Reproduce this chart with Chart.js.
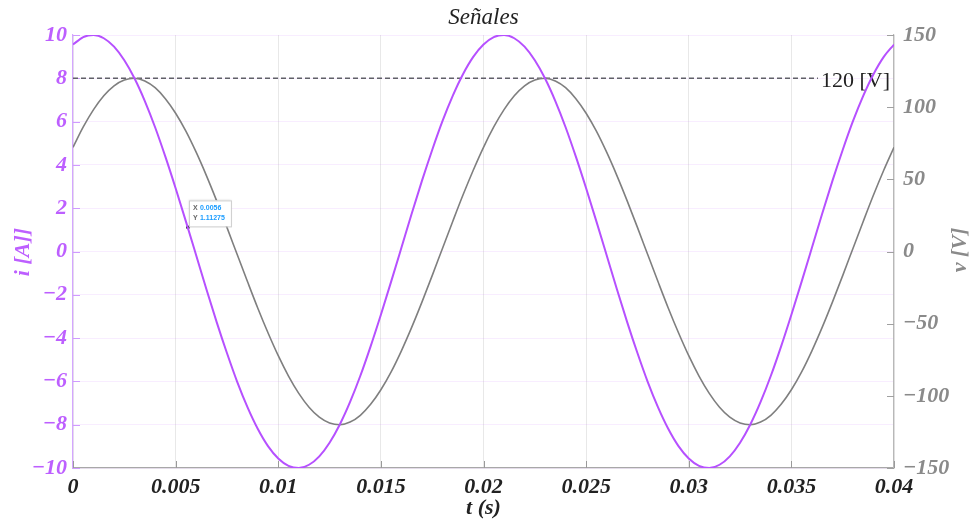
<!DOCTYPE html>
<html>
<head>
<meta charset="utf-8">
<script src="https://cdn.jsdelivr.net/npm/chart.js@4"></script>
<style>
  html,body{margin:0;padding:0;background:#fff;}
  canvas{display:block;}
</style>
</head>
<body>
<canvas id="c" width="974" height="521"></canvas>
<script>
// ---- data ----
const titleText = 'Señales';
const xTitle = 't (s)';
const leftTitle = 'i [A]]';
const rightTitle = 'v [V]';
const times = [0,0.0005,0.001,0.0015,0.002,0.0025,0.003,0.0035,0.004,0.0045,0.005,0.0055,0.006,0.0065,0.007,0.0075,0.008,0.0085,0.009,0.0095,
  0.01,0.0105,0.011,0.0115,0.012,0.0125,0.013,0.0135,0.014,0.0145,0.015,0.0155,0.016,0.0165,0.017,0.0175,0.018,0.0185,0.019,0.0195,
  0.02,0.0205,0.021,0.0215,0.022,0.0225,0.023,0.0235,0.024,0.0245,0.025,0.0255,0.026,0.0265,0.027,0.0275,0.028,0.0285,0.029,0.0295,
  0.03,0.0305,0.031,0.0315,0.032,0.0325,0.033,0.0335,0.034,0.0345,0.035,0.0355,0.036,0.0365,0.037,0.0375,0.038,0.0385,0.039,0.0395,0.04];
const current = [9.56,9.90,10.00,9.85,9.46,8.83,7.99,6.95,5.74,4.38,2.92,1.39,-0.17,-1.74,-3.26,-4.69,-6.02,-7.19,-8.19,-8.99,
  -9.56,-9.90,-10.00,-9.85,-9.46,-8.83,-7.99,-6.95,-5.74,-4.38,-2.92,-1.39,0.17,1.74,3.26,4.69,6.02,7.19,8.19,8.99,
  9.56,9.90,10.00,9.85,9.46,8.83,7.99,6.95,5.74,4.38,2.92,1.39,-0.17,-1.74,-3.26,-4.69,-6.02,-7.19,-8.19,-8.99,
  -9.56,-9.90,-10.00,-9.85,-9.46,-8.83,-7.99,-6.95,-5.74,-4.38,-2.92,-1.39,0.17,1.74,3.26,4.69,6.02,7.19,8.19,8.99,9.56];
const voltage = [72.2,86.3,98.3,107.9,114.8,118.8,120.0,118.2,113.5,105.9,95.8,83.4,68.8,52.6,35.1,16.7,-2.1,-20.8,-39.1,-56.3,
  -72.2,-86.3,-98.3,-107.9,-114.8,-118.8,-120.0,-118.2,-113.5,-105.9,-95.8,-83.4,-68.8,-52.6,-35.1,-16.7,2.1,20.8,39.1,56.3,
  72.2,86.3,98.3,107.9,114.8,118.8,120.0,118.2,113.5,105.9,95.8,83.4,68.8,52.6,35.1,16.7,-2.1,-20.8,-39.1,-56.3,
  -72.2,-86.3,-98.3,-107.9,-114.8,-118.8,-120.0,-118.2,-113.5,-105.9,-95.8,-83.4,-68.8,-52.6,-35.1,-16.7,2.1,20.8,39.1,56.3,72.2];
const refValue = 120;
const refLabel = '120 [V]';
const tipX = 0.0056;
const tipY = 1.11275;
const tipLabels = ['0.0056', '1.11275'];

// ---- styles ----
const PURPLE = '#b650ff';
const PURPLE_TXT = '#bd5fff';
const GRAY = '#7f7f7f';
const GRAY_TXT = '#8a8a8a';
const SERIF = "'Liberation Serif', 'Times New Roman', serif";
const minus = s => String(s).replace('-', '\u2212');

const pts = (xs, ys) => xs.map((x, i) => ({x, y: ys[i]}));

const decorPlugin = {
  id: 'decor',
  beforeDatasetsDraw(chart) {
    const {ctx, chartArea: a, scales} = chart;
    ctx.save();
    // inside tick marks
    ctx.lineWidth = 1;
    ctx.strokeStyle = '#9a9a9a';
    scales.x.ticks.forEach(t => {
      const px = Math.round(scales.x.getPixelForValue(t.value)) + 0.5;
      ctx.beginPath(); ctx.moveTo(px, a.bottom); ctx.lineTo(px, a.bottom - 7); ctx.stroke();
    });
    ctx.strokeStyle = '#cf9bff';
    scales.y.ticks.forEach(t => {
      const py = Math.round(scales.y.getPixelForValue(t.value)) + 0.5;
      ctx.beginPath(); ctx.moveTo(a.left, py); ctx.lineTo(a.left + 7, py); ctx.stroke();
    });
    ctx.strokeStyle = '#a0a0a0';
    scales.y1.ticks.forEach(t => {
      const py = Math.round(scales.y1.getPixelForValue(t.value)) + 0.5;
      ctx.beginPath(); ctx.moveTo(a.right, py); ctx.lineTo(a.right - 7, py); ctx.stroke();
    });
    // reference line with label
    ctx.font = "22px " + SERIF;
    const tw = ctx.measureText(refLabel).width;
    const ry = scales.y1.getPixelForValue(refValue);
    const tx = a.right - 4 - tw;
    ctx.strokeStyle = '#606068';
    ctx.lineWidth = 1.5;
    ctx.setLineDash([5, 3]);
    ctx.beginPath(); ctx.moveTo(a.left, ry); ctx.lineTo(tx - 3, ry); ctx.stroke();
    ctx.setLineDash([]);
    ctx.fillStyle = '#222';
    ctx.textAlign = 'left';
    ctx.textBaseline = 'middle';
    ctx.fillText(refLabel, tx, ry + 3);
    ctx.restore();
  },
  afterDatasetsDraw(chart) {
    const {ctx} = chart;
    const meta = chart.getDatasetMeta(2);
    const p = meta.data[0];
    ctx.save();
    // datatip
    const bx = p.x + 1, by = p.y - 27, bw = 42, bh = 26;
    ctx.shadowColor = 'rgba(0,0,0,0.15)';
    ctx.shadowBlur = 2;
    ctx.fillStyle = '#fff';
    ctx.fillRect(bx, by, bw, bh);
    ctx.shadowBlur = 0;
    ctx.strokeStyle = '#cfcfcf';
    ctx.lineWidth = 1;
    ctx.strokeRect(bx + 0.5, by + 0.5, bw, bh);
    ctx.font = "bold 7px 'Liberation Sans', Arial, sans-serif";
    ctx.textBaseline = 'middle';
    ctx.textAlign = 'left';
    ctx.fillStyle = '#666';
    ctx.fillText('X', bx + 4, by + 8);
    ctx.fillText('Y', bx + 4, by + 18);
    ctx.fillStyle = '#1a9cff';
    ctx.fillText(tipLabels[0], bx + 11, by + 8);
    ctx.fillText(tipLabels[1], bx + 11, by + 18);
    ctx.restore();
  },
  afterDraw(chart) {
    const {ctx, chartArea: a} = chart;
    ctx.save();
    ctx.textAlign = 'center';
    ctx.textBaseline = 'middle';
    // title
    ctx.fillStyle = '#222';
    ctx.font = "italic 23px " + SERIF;
    ctx.fillText(titleText, (a.left + a.right) / 2, 18);
    // x title
    ctx.font = "bold italic 22px " + SERIF;
    ctx.fillStyle = '#222';
    ctx.fillText(xTitle, (a.left + a.right) / 2, 508);
    // left title
    ctx.save();
    ctx.translate(23, 252);
    ctx.rotate(-Math.PI / 2);
    ctx.fillStyle = PURPLE_TXT;
    ctx.fillText(leftTitle, 0, 0);
    ctx.restore();
    // right title
    ctx.save();
    ctx.translate(960, 250);
    ctx.rotate(-Math.PI / 2);
    ctx.fillStyle = GRAY_TXT;
    ctx.fillText(rightTitle, 0, 0);
    ctx.restore();
    ctx.restore();
  }
};

new Chart(document.getElementById('c'), {
  type: 'line',
  data: {
    datasets: [
      { label: 'i', data: pts(times, current), yAxisID: 'y', borderColor: PURPLE, borderWidth: 2,
        pointRadius: 0, cubicInterpolationMode: 'monotone', fill: false },
      { label: 'v', data: pts(times, voltage), yAxisID: 'y1', borderColor: GRAY, borderWidth: 1.6,
        pointRadius: 0, cubicInterpolationMode: 'monotone', fill: false },
      { label: 'tip', data: [{x: tipX, y: tipY}], yAxisID: 'y', showLine: false,
        pointRadius: 1.8, pointBackgroundColor: '#000', pointBorderColor: '#000', pointBorderWidth: 0 }
    ]
  },
  options: {
    responsive: false,
    devicePixelRatio: 1,
    animation: false,
    layout: { padding: { top: 35, left: 0, right: 0, bottom: 0 } },
    plugins: { legend: { display: false }, tooltip: { enabled: false }, title: { display: false } },
    scales: {
      x: {
        type: 'linear', min: 0, max: 0.04,
        afterFit: s => { s.height = 53; },
        ticks: { stepSize: 0.005, padding: 6, color: '#222',
          font: { family: SERIF, size: 22, style: 'italic', weight: 'bold' },
          callback: v => String(Number(v.toFixed(4))) },
        grid: { color: 'rgba(0,0,0,0.09)', drawTicks: false },
        border: { color: '#a8a8a8', width: 1.2 }
      },
      y: {
        position: 'left', min: -10, max: 10,
        afterFit: s => { s.width = 73; },
        ticks: { stepSize: 2, padding: 6, color: PURPLE_TXT,
          font: { family: SERIF, size: 22, style: 'italic', weight: 'bold' },
          callback: v => minus(v) },
        grid: { color: 'rgba(182,80,255,0.10)', drawTicks: false },
        border: { color: '#d4a6ff', width: 1.2 }
      },
      y1: {
        position: 'right', min: -150, max: 150,
        afterFit: s => { s.width = 80; },
        ticks: { stepSize: 50, padding: 9, color: GRAY_TXT,
          font: { family: SERIF, size: 22, style: 'italic', weight: 'bold' },
          callback: v => minus(v) },
        grid: { display: false, drawTicks: false },
        border: { color: '#b8b8b8', width: 1.2 }
      }
    }
  },
  plugins: [decorPlugin]
});
</script>
</body>
</html>
